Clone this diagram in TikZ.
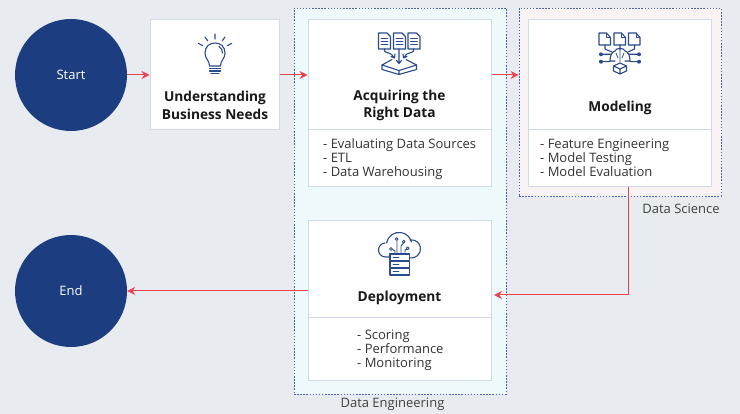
\documentclass[tikz,border=0pt]{standalone}
\usepackage{fontspec}
\setmainfont{Open Sans}
\usetikzlibrary{arrows.meta,positioning}
\definecolor{pagebg}{HTML}{E8ECF1}
\definecolor{navy}{HTML}{1C3D7F}
\definecolor{iconblue}{HTML}{2A4B8D}
\definecolor{boxline}{HTML}{CFDBE8}
\definecolor{arrowred}{HTML}{E8434F}
\definecolor{regionline}{HTML}{4A62A8}
\definecolor{engfill}{HTML}{EEF9FC}
\definecolor{scifill}{HTML}{FAF3F4}
\tikzset{
  terminal/.style={circle,fill=navy,text=white,minimum size=112pt,inner sep=0pt,
    font=\fontsize{13}{14}\selectfont},
  stagebox/.style={rectangle,draw=boxline,fill=white,line width=1pt,inner sep=0pt},
  region/.style={rectangle,draw=regionline,line width=.8pt,dash pattern=on 1.5pt off 1.6pt,inner sep=0pt},
  headline/.style={align=center,inner sep=0pt,font=\fontsize{13.7}{17.5}\selectfont\bfseries,text=black!90},
  itemlist/.style={align=left,anchor=north west,inner sep=0pt,font=\fontsize{13}{14}\selectfont,text=black!80},
  caption/.style={inner sep=0pt,font=\fontsize{13}{14}\selectfont,text=black!75},
  flow/.style={draw=arrowred,line width=1pt,-{Stealth[length=8pt,width=8pt]}},
  icon/.style={draw=iconblue,line width=1.1pt,line join=round,line cap=round}
}
\begin{document}
\begin{tikzpicture}[x=1pt,y=-1pt]
  \useasboundingbox[fill=pagebg] (0,0) rectangle (740,414);
  % regions
  \node[region,fill=engfill,minimum width=212pt,minimum height=386pt] (eng) at (400,201) {};
  \node[region,fill=scifill,minimum width=202pt,minimum height=188pt] (sci) at (620,102) {};
  \node[caption] (englabel) at (392.5,404) {Data Engineering};
  \node[caption] (scilabel) at (681,209) {Data Science};
  % start and end
  \node[terminal] (start) at (71,75) {Start};
  \node[terminal] (end) at (71,291) {End};
  % boxes
  \node[stagebox,minimum width=129pt,minimum height=110pt] (needs) at (214.5,75) {};
  \node[stagebox,minimum width=183pt,minimum height=167pt] (acquire) at (399.5,103.5) {};
  \node[stagebox,minimum width=183pt,minimum height=167pt] (model) at (619.5,103.5) {};
  \node[stagebox,minimum width=183pt,minimum height=160pt] (deploy) at (399.5,301) {};
  \coordinate (acquirecut) at (399.5,130);
  \coordinate (modelcut) at (619.5,130);
  \coordinate (deploycut) at (399.5,318);
  \coordinate (modelout) at (628.5,187);
  \coordinate (deployin) at (494,295);
  \draw[boxline,line width=1pt] (acquire.west |- acquirecut) -- (acquire.east |- acquirecut);
  \draw[boxline,line width=1pt] (model.west |- modelcut) -- (model.east |- modelcut);
  \draw[boxline,line width=1pt] (deploy.west |- deploycut) -- (deploy.east |- deploycut);
  % texts
  \node[headline] (needstitle) at (215,105.5) {Understanding\\Business Needs};
  \node[headline] (acquiretitle) at (399.5,105.5) {Acquiring the\\Right Data};
  \node[headline] (modeltitle) at (620,108) {Modeling};
  \node[headline] (deploytitle) at (399.5,298) {Deployment};
  \node[itemlist] (acquirelist) at (323,138.3) {- Evaluating Data Sources\\- ETL\\- Data Warehousing};
  \node[itemlist] (modellist) at (540,138.3) {- Feature Engineering\\- Model Testing\\- Model Evaluation};
  \node[itemlist] (deploylist) at (357,329.3) {- Scoring\\- Performance\\- Monitoring};
  % connectors
  \path[flow] (start) -- (needs);
  \path[flow] (needs) -- (acquire.west |- needs);
  \path[flow] (acquire.east |- needs) -- (sci.west |- needs);
  \path[flow] (modelout) |- (deployin);
  \path[flow] (deploy.west |- end.east) -- (end.east);
  % bulb icon
  \begin{scope}[icon]
    \draw (209.5,66) .. controls (209.5,60) and (205,59) .. (205,53) .. controls (205,46.5) and (209.5,43) .. (215,43)
      .. controls (220.5,43) and (225,46.5) .. (225,53) .. controls (225,59) and (220.5,60) .. (220.5,66) -- cycle;
    \draw (219,46.5) .. controls (221.5,48) and (222.5,50.5) .. (222.5,53);
    \draw (209.5,68.5) -- (220.5,68.5) (209.5,71) -- (220.5,71) (211,73.5) -- (219,73.5);
    \draw (215,34) -- (215,39) (205,37) -- (207.7,40.7) (198.3,43.3) -- (202.7,45.7)
      (225,37) -- (222.3,40.7) (231.7,43.3) -- (227.3,45.7);
  \end{scope}
  % data icon
  \begin{scope}[icon]
    \foreach \docx in {378.5,393.5,408} {
      \draw (\docx,33) -- (\docx+8.5,33) -- (\docx+12,36.5) -- (\docx+12,49) -- (\docx,49) -- cycle;
      \draw[line width=.8pt] (\docx+2.5,38) -- (\docx+9.5,38) (\docx+2.5,41) -- (\docx+9.5,41) (\docx+2.5,44) -- (\docx+9.5,44);
    }
    \draw (399,49) -- (399,63) (396.5,60.5) -- (399,63.5) -- (401.5,60.5);
    \draw (384.5,49) -- (384.5,51) .. controls (384.5,53) and (392,52) .. (394,57.5) (391,56.5) -- (394.5,58) -- (395,54);
    \draw (413.5,49) -- (413.5,51) .. controls (413.5,53) and (406,52) .. (404,57.5) (407,56.5) -- (403.5,58) -- (403,54);
    \draw (392,59.5) -- (382,65) -- (399,70.5) -- (416.5,65) -- (406,59.5);
    \draw (382,65) -- (382,69.5) -- (399,74.5) -- (416.5,69.5) -- (416.5,65) (399,70.5) -- (399,74.5);
  \end{scope}
  % model icon
  \begin{scope}[icon]
    \foreach \docx in {599,614,628.5} {
      \draw (\docx,33) -- (\docx+7.5,33) -- (\docx+11.5,37.5) -- (\docx+11.5,45) -- (\docx,45) -- cycle;
      \draw[line width=.8pt] (\docx+7.5,33) -- (\docx+7.5,37.5) -- (\docx+11.5,37.5);
    }
    \draw (610,61) .. controls (610,55) and (612,52) .. (615,51) .. controls (616,47.5) and (624,47.5) .. (625,51)
      .. controls (628,52) and (630,55) .. (630,61) -- (625,61) (615,61) -- (610,61);
    \draw[line width=.8pt] (620,50) -- (620,62) (616,53) -- (618,58) (624,53) -- (622,58);
    \draw (603,54.3) -- (611,54.3) (603,61.7) -- (610,61.7) (605,45) -- (605,49) -- (612,52)
      (637,54.3) -- (629,54.3) (637,61.7) -- (630,61.7) (634.5,45) -- (634.5,49) -- (628,52) (620,45) -- (620,50);
    \fill[iconblue] (601,54.3) circle[radius=2pt] (601,61.7) circle[radius=2pt] (639,54.3) circle[radius=2pt] (639,61.7) circle[radius=2pt];
    \draw (620,63) -- (613.5,66) -- (620,69) -- (626.5,66) -- cycle;
    \draw (613.5,66) -- (613.5,71) -- (620,74) -- (626.5,71) -- (626.5,66) (620,69) -- (620,74);
  \end{scope}
  % cloud icon
  \begin{scope}[icon]
    \draw (390,257) -- (385.5,257) arc[start angle=270,end angle=95,radius=7pt];
    \draw (386.5,243) arc[start angle=170,end angle=15,radius=12.8pt];
    \draw (410,240) arc[start angle=100,end angle=-90,radius=9pt] -- (409.3,258);
    \foreach \rowy in {254,261.3,268.6} {
      \draw (390,\rowy) rectangle (409.3,\rowy+6.4);
      \draw[line width=.8pt] (393,\rowy+3.2) -- (399,\rowy+3.2);
    }
    \draw[line width=.9pt] (395,254) -- (395,251) -- (392.5,249.5) (397,254) -- (397,240.5)
      (401,254) -- (401,246) -- (403.5,243) (405,254) -- (405,250) -- (407,249);
    \draw[line width=.9pt,fill=white] (391,249) circle[radius=1.4pt] (396.7,239) circle[radius=1.4pt]
      (403.7,241.7) circle[radius=1.4pt] (407.7,248.3) circle[radius=1.4pt];
  \end{scope}
\end{tikzpicture}
\end{document}
